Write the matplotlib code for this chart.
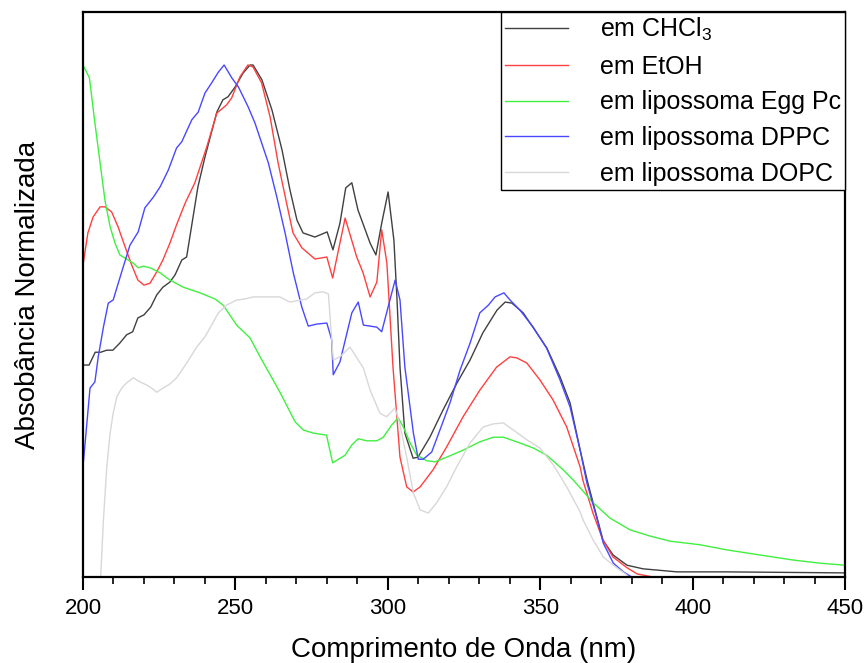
import matplotlib
matplotlib.use("Agg")
import matplotlib.pyplot as plt
from matplotlib.ticker import MultipleLocator

plt.rcParams['font.family'] = ['Liberation Sans', 'DejaVu Sans']
plt.rcParams['mathtext.fontset'] = 'custom'
plt.rcParams['mathtext.rm'] = 'Liberation Sans'
plt.rcParams['mathtext.it'] = 'Liberation Sans'
plt.rcParams['mathtext.default'] = 'regular'

# ---- data (normalized absorbance vs wavelength, nm) ----
chcl3_nm = [200, 202, 204, 205.8, 207.8, 209.8, 212.1, 214.3, 216.3, 218, 220, 222.2, 224.2, 226.2,
            228.5, 230.2, 232.4, 234, 237.7, 240, 243.9, 245.9, 247.6, 249.9, 252.5, 254.8, 255.8,
            258.7, 262, 265.3, 267.9, 270.2, 272.2, 276.1, 280.1, 282, 284.3, 286.2, 288.2, 290.2,
            294.2, 296.1, 298, 300.1, 302, 303, 304, 305.6, 308.3, 309.9, 313.8, 318.1, 322.7, 327,
            331.2, 335.8, 338.5, 340.7, 344.4, 347.6, 352.2, 356.5, 359.8, 363.1, 365.4, 370.6,
            373.9, 378.5, 383.7, 394.9, 411.3, 450]
chcl3_abs = [0.414, 0.414, 0.439, 0.439, 0.443, 0.443, 0.457, 0.473, 0.479, 0.506, 0.512, 0.527,
             0.551, 0.566, 0.576, 0.590, 0.619, 0.625, 0.762, 0.820, 0.908, 0.932, 0.938, 0.957,
             0.984, 1.0, 1.0, 0.971, 0.912, 0.834, 0.756, 0.697, 0.672, 0.664, 0.674, 0.639, 0.691,
             0.760, 0.770, 0.717, 0.652, 0.629, 0.691, 0.752, 0.658, 0.545, 0.410, 0.281, 0.232,
             0.234, 0.273, 0.326, 0.379, 0.424, 0.477, 0.521, 0.537, 0.535, 0.516, 0.488, 0.447,
             0.391, 0.340, 0.248, 0.189, 0.072, 0.043, 0.023, 0.016, 0.010, 0.010, 0.008]

etoh_nm = [200, 201.6, 203.3, 205.6, 207.2, 209.4, 211.5, 213.8, 216, 218, 220, 222, 224.2, 226.2,
           228.5, 230.7, 233.5, 236.7, 240.6, 243.9, 247.1, 248.8, 251.5, 254.1, 255.8, 258.6,
           261.4, 264, 266.8, 268.9, 271.8, 276.1, 280, 281.9, 286, 289.8, 291.9, 294.2, 296.4,
           298, 299.7, 301.7, 304, 306.2, 308.3, 310.6, 314.8, 319.3, 324.7, 330.2, 335.7, 340.1,
           342.3, 345.6, 349.9, 354.2, 358.7, 363.1, 364, 367.3, 370.6, 373.9, 378.5, 381.8, 387]
etoh_abs = [0.609, 0.672, 0.703, 0.723, 0.723, 0.713, 0.684, 0.645, 0.609, 0.580, 0.570, 0.574,
            0.596, 0.619, 0.652, 0.688, 0.730, 0.770, 0.840, 0.906, 0.922, 0.936, 0.977, 1.0,
            0.996, 0.965, 0.898, 0.809, 0.730, 0.672, 0.643, 0.621, 0.625, 0.584, 0.701, 0.625,
            0.594, 0.547, 0.576, 0.678, 0.613, 0.410, 0.234, 0.176, 0.166, 0.176, 0.209, 0.254,
            0.313, 0.365, 0.410, 0.430, 0.428, 0.418, 0.385, 0.346, 0.293, 0.215, 0.189, 0.125,
            0.072, 0.039, 0.018, 0.006, 0.0]

eggpc_nm = [200, 202.1, 203.9, 205.6, 207.2, 208.9, 210.5, 212.1, 214.3, 216.5, 218.1, 219.8, 222,
            225.3, 228.5, 232.9, 238.4, 243.3, 246, 250.4, 254.8, 258.1, 261.4, 264.6, 269.6,
            272.3, 275.6, 279.9, 281.9, 286, 288.2, 290.3, 293.1, 296.4, 298.5, 301.3, 303.4,
            305.1, 307.3, 309.5, 312.8, 315.5, 319.3, 324.8, 330.2, 334.6, 337.9, 342.3, 347.7,
            352.1, 357.6, 360.9, 367.4, 372.9, 379.5, 386, 392.6, 402.4, 411.2, 422.1, 433.1,
            441.8, 450]
eggpc_abs = [1.0, 0.975, 0.887, 0.809, 0.736, 0.684, 0.652, 0.629, 0.621, 0.613, 0.604, 0.607,
             0.604, 0.594, 0.580, 0.566, 0.555, 0.543, 0.531, 0.492, 0.467, 0.430, 0.395, 0.361,
             0.303, 0.287, 0.281, 0.277, 0.223, 0.238, 0.258, 0.270, 0.266, 0.266, 0.273, 0.297,
             0.311, 0.293, 0.262, 0.238, 0.227, 0.225, 0.234, 0.248, 0.264, 0.273, 0.273, 0.264,
             0.252, 0.238, 0.209, 0.189, 0.145, 0.115, 0.092, 0.080, 0.070, 0.063, 0.053, 0.043,
             0.033, 0.027, 0.023]

dppc_nm = [200.1, 200.7, 202.3, 203.9, 205, 206.7, 208.3, 209.9, 212.7, 215.4, 218.1, 220.3, 223.1,
           225.3, 228, 230.7, 232.4, 235.7, 237.8, 240, 242.2, 244.4, 246.3, 248.8, 251, 254.2,
           256.4, 258.6, 260.8, 263.6, 266.3, 269, 271.8, 273.9, 276.7, 280, 281.6, 282.1, 284.3,
           288.2, 290.3, 292, 296.4, 298, 302.4, 304, 305.6, 308.4, 310, 311.6, 314.4, 317.1,
           320.4, 323.7, 327, 330.2, 333, 335.2, 338.1, 340.1, 343.4, 347.7, 352.1, 356.5, 359.8,
           363.1, 365.3, 368.5, 370.7, 374, 377.3, 380]
dppc_abs = [0.223, 0.262, 0.369, 0.381, 0.430, 0.488, 0.535, 0.541, 0.596, 0.648, 0.674, 0.721,
            0.742, 0.762, 0.795, 0.838, 0.850, 0.893, 0.908, 0.945, 0.965, 0.986, 1.0, 0.975,
            0.957, 0.918, 0.887, 0.848, 0.809, 0.742, 0.672, 0.594, 0.527, 0.490, 0.494, 0.496,
            0.463, 0.395, 0.420, 0.516, 0.537, 0.492, 0.488, 0.479, 0.580, 0.541, 0.410, 0.281,
            0.230, 0.230, 0.244, 0.287, 0.340, 0.404, 0.457, 0.516, 0.531, 0.547, 0.555, 0.541,
            0.521, 0.488, 0.447, 0.385, 0.332, 0.248, 0.184, 0.117, 0.066, 0.027, 0.010, 0.0]

dopc_nm = [205.8, 206.7, 207.8, 208.9, 209.9, 211.1, 212.7, 214.3, 216.5, 218.7, 220.9, 222.5,
           224.2, 226.3, 228.5, 230.7, 232.9, 235.1, 237.3, 240, 242.2, 244.4, 247.1, 250.4,
           253.1, 255.9, 258.6, 261.4, 264.6, 267.9, 273.4, 276.1, 278.8, 280.5, 282.1, 284.3,
           287.6, 292, 294.2, 297.4, 299.6, 302.4, 304, 306.2, 308.4, 310.6, 313.3, 316, 319.3,
           322.6, 327, 331.3, 334.6, 337.9, 341.2, 345.6, 349.9, 354.3, 358.7, 363.1, 364.1,
           367.4, 370.7, 374, 378.4]
dopc_abs = [0.0, 0.111, 0.215, 0.281, 0.320, 0.352, 0.369, 0.379, 0.389, 0.381, 0.375, 0.369,
            0.361, 0.369, 0.377, 0.389, 0.408, 0.428, 0.449, 0.469, 0.492, 0.516, 0.531, 0.541,
            0.543, 0.547, 0.547, 0.547, 0.547, 0.537, 0.543, 0.555, 0.557, 0.553, 0.424, 0.430,
            0.449, 0.408, 0.365, 0.320, 0.313, 0.330, 0.297, 0.234, 0.164, 0.131, 0.125, 0.145,
            0.176, 0.215, 0.262, 0.293, 0.299, 0.301, 0.287, 0.268, 0.252, 0.219, 0.176, 0.127,
            0.111, 0.072, 0.039, 0.023, 0.004]

series = [
    (chcl3_nm, chcl3_abs, '#404040', 'em CHCl$_3$'),
    (etoh_nm, etoh_abs, '#ff4040', 'em EtOH'),
    (eggpc_nm, eggpc_abs, '#40f040', 'em lipossoma Egg Pc'),
    (dppc_nm, dppc_abs, '#4848ff', 'em lipossoma DPPC'),
    (dopc_nm, dopc_abs, '#d8d8d8', 'em lipossoma DOPC'),
]

fig = plt.figure(figsize=(8.66, 6.63), dpi=100)
ax = fig.add_axes([83 / 866, 86 / 663, 762 / 866, 565 / 663])

for x, y, c, lab in series:
    ax.plot(x, y, color=c, lw=1.0, label=lab)

ax.set_xlim(200, 450)
ax.set_ylim(0, 565 / 512)
ax.xaxis.set_major_locator(MultipleLocator(50))
ax.xaxis.set_minor_locator(MultipleLocator(10))
ax.tick_params(axis='x', which='major', direction='out', length=9, width=1.5,
               labelsize=16, pad=6)
ax.tick_params(axis='x', which='minor', direction='out', length=5, width=1.2)
ax.set_yticks([])
for s in ax.spines.values():
    s.set_linewidth(1.6)

ax.set_xlabel('Comprimento de Onda (nm)', fontsize=20, labelpad=13)
ax.set_ylabel('Absobância Normalizada', fontsize=20, labelpad=30)

leg = ax.legend(loc='upper right', bbox_to_anchor=(1.0, 1.0), borderaxespad=0,
                fontsize=18, handlelength=2.5, handletextpad=1.3, borderpad=0.15,
                labelspacing=0.47, fancybox=False, framealpha=1, edgecolor='black')
leg.get_frame().set_linewidth(1.0)

fig.savefig('out.png', dpi=100)
